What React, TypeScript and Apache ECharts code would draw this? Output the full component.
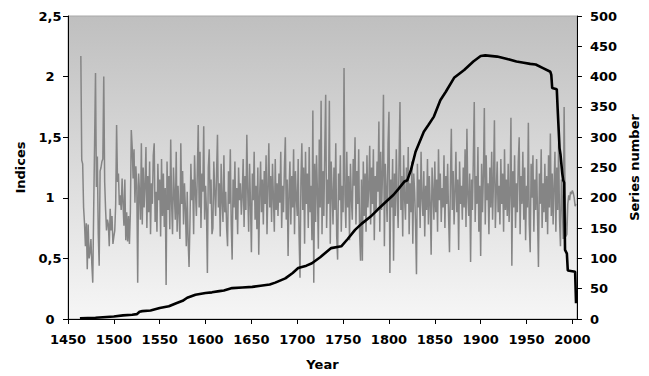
import React, { useEffect, useRef } from "react";
import * as echarts from "echarts";

// Chronology indices (annual), starting 1464
const indexStartYear = 1464;
const indexValues: number[] = [
  2.17, 1.31, 1.28, 0.92, 0.79, 0.60,
  0.79, 0.41, 0.78, 0.50, 0.55, 0.66, 0.45, 0.30, 0.90, 1.45,
  2.03, 1.09, 1.34, 0.70, 0.44, 1.22, 1.25, 1.30, 1.32, 2.00,
  1.13, 0.90, 0.73, 0.82, 0.78, 0.60, 0.91, 0.73, 0.85, 0.62,
  0.68, 0.73, 0.95, 1.60, 1.13, 1.20, 0.94, 1.02, 0.90, 1.16,
  0.95, 0.77, 1.15, 0.65, 0.88, 0.64, 0.85, 0.62, 0.88, 1.56,
  1.42, 1.16, 1.40, 0.96, 1.26, 1.10, 0.30, 1.20, 1.05, 0.82,
  1.45, 0.78, 1.25, 0.92, 1.10, 1.42, 0.75, 1.18, 0.88, 1.30,
  0.70, 1.12, 0.95, 1.35, 1.45, 0.80, 1.05, 0.72, 1.28, 0.98,
  1.15, 0.68, 1.32, 0.85, 1.20, 0.76, 1.08, 0.28, 1.30, 0.90,
  1.18, 0.74, 1.48, 0.95, 0.70, 1.25, 1.02, 0.82, 1.38, 0.72,
  1.10, 0.88, 0.66, 1.45, 0.95, 1.22, 0.78, 1.12, 0.92, 0.60,
  1.05, 0.65, 0.43, 0.80, 1.28, 0.98, 1.15, 0.70, 1.35, 1.05,
  0.85, 1.20, 1.60, 0.92, 1.38, 0.75, 1.20, 1.05, 1.59, 0.82,
  1.10, 0.90, 0.38, 1.25, 1.40, 0.95, 1.15, 0.70, 0.75, 1.30,
  1.05, 0.85, 1.20, 1.52, 0.92, 1.12, 0.68, 1.28, 0.98, 0.80,
  1.35, 0.88, 1.05, 0.75, 0.60, 1.22, 0.95, 1.40, 0.78, 0.49,
  1.15, 0.92, 1.30, 0.82, 1.08, 0.70, 1.25, 0.98, 1.12, 0.86,
  1.02, 1.32, 0.76, 1.18, 0.90, 1.52, 1.05, 0.72, 1.28, 0.95,
  0.55, 1.20, 0.98, 1.38, 0.82, 1.10, 0.74, 1.25, 0.53, 1.02,
  1.30, 0.88, 1.15, 0.78, 1.22, 0.95, 1.35, 0.70, 1.08, 1.45,
  0.92, 1.18, 0.80, 1.28, 1.00, 0.72, 1.32, 0.90, 1.12, 0.85,
  1.20, 0.96, 1.38, 0.75, 1.10, 0.88, 1.25, 1.50, 0.82, 1.15,
  0.52, 1.05, 1.30, 0.78, 1.18, 0.92, 1.40, 0.70, 1.22, 1.00,
  0.85, 1.32, 0.68, 0.34, 1.15, 1.45, 0.90, 1.25, 0.62, 1.38,
  0.95, 1.20, 0.75, 1.42, 0.88, 1.10, 0.65, 1.72, 0.30, 1.28,
  0.80, 1.35, 1.05, 0.58, 1.48, 0.92, 1.80, 0.70, 1.22, 0.85,
  1.40, 1.85, 0.75, 1.15, 0.95, 1.80, 0.62, 1.30, 1.05, 0.78,
  1.25, 0.90, 1.45, 0.68, 0.49, 1.20, 0.98, 1.35, 0.72, 1.10,
  0.88, 2.07, 1.02, 0.75, 1.38, 0.92, 1.18, 0.65, 1.28, 1.00,
  0.82, 1.32, 1.10, 1.50, 0.78, 1.22, 0.95, 1.40, 0.70, 0.48,
  1.15, 0.48, 1.30, 0.85, 1.20, 0.72, 1.35, 0.92, 1.08, 1.43,
  0.78, 1.25, 0.95, 1.40, 0.65, 1.18, 0.88, 1.30, 1.05, 1.63,
  0.72, 1.38, 0.90, 1.22, 1.85, 0.60, 1.28, 1.05, 0.80, 1.45,
  1.71, 0.38, 1.15, 0.92, 1.32, 0.48, 1.20, 0.85, 1.40, 1.02,
  0.75, 1.30, 1.79, 0.90, 1.18, 0.68, 1.35, 1.00, 0.82, 1.25,
  0.95, 1.42, 0.70, 1.12, 0.88, 1.30, 0.62, 1.20, 1.05, 0.78,
  0.37, 1.28, 0.92, 1.15, 0.75, 1.38, 1.00, 0.85, 1.22, 0.68,
  1.10, 0.90, 1.32, 0.78, 1.18, 0.95, 0.53, 1.25, 1.05, 0.82,
  1.30, 0.88, 1.15, 0.72, 1.40, 0.98, 1.20, 0.80, 1.08, 0.92,
  1.35, 0.75, 1.18, 0.95, 1.28, 0.85, 0.55, 1.12, 1.57, 0.90,
  1.22, 0.78, 1.05, 1.38, 0.88, 1.15, 0.57, 1.30, 0.95, 1.10,
  0.82, 1.25, 0.92, 1.40, 0.76, 1.57, 1.02, 0.85, 1.20, 0.47,
  1.15, 0.90, 1.32, 1.79, 0.80, 1.18, 0.95, 1.42, 0.72, 1.10,
  0.52, 1.28, 0.88, 1.20, 1.74, 0.78, 1.35, 0.98, 1.12, 0.70,
  1.25, 0.92, 1.38, 0.82, 1.15, 1.64, 0.75, 1.05, 1.30, 0.88,
  1.10, 0.78, 1.32, 0.95, 1.20, 0.72, 1.40, 0.90, 1.15, 0.85,
  1.28, 0.80, 1.05, 1.66, 0.44, 1.22, 0.92, 1.35, 0.75, 1.12,
  0.88, 1.30, 1.50, 0.70, 1.18, 0.95, 1.38, 0.82, 1.25, 0.65,
  1.10, 0.92, 1.62, 0.78, 0.55, 1.28, 1.00, 1.35, 0.72, 1.15,
  0.90, 1.32, 0.85, 0.43, 1.20, 0.95, 1.40, 0.75, 1.12, 0.88,
  1.28, 0.80, 1.18, 0.70, 1.35, 0.92, 1.53, 0.85, 1.20, 0.78,
  1.10, 1.38, 0.72, 1.25, 0.90, 1.45, 0.82, 0.60, 1.15, 0.95,
  0.66, 1.75, 1.05, 0.68, 0.70, 0.95, 1.02, 0.98, 1.05, 1.03,
  1.06, 1.04, 1.00, 0.93, 0.95,
];

// Number of series (right axis)
const seriesYears: number[] = [
  1463, 1480, 1500, 1510, 1520, 1525, 1528, 1531, 1540, 1550, 1560, 1568, 1575, 1580, 1589,
  1600, 1607, 1615, 1620, 1629, 1640, 1651, 1660, 1670, 1676, 1687, 1695, 1701, 1710, 1716,
  1725, 1737, 1748, 1755, 1763, 1770, 1780, 1788, 1795, 1805, 1810, 1817, 1820, 1824, 1829,
  1838, 1843, 1849, 1856, 1862, 1871, 1882, 1892, 1900, 1905, 1918, 1929, 1939, 1947, 1954,
  1960, 1968, 1976, 1977, 1978, 1983, 1984, 1986, 1987, 1989, 1990, 1991, 1992, 1994, 1995,
  2003, 2004,
];
const seriesCounts: number[] = [
  1, 2, 4, 6, 7, 8, 12, 13, 14, 18, 21, 26, 30, 35, 40,
  43, 44, 46, 47, 51, 52, 53, 55, 57, 60, 67, 76, 84, 88, 92,
  102, 117, 120, 132, 147, 157, 169, 181, 191, 205, 214, 227, 229, 246, 276,
  309, 320, 334, 361, 375, 398, 411, 425, 434, 435, 433, 429, 425, 423, 421,
  420, 414, 408, 403, 381, 379, 345, 282, 272, 240, 229, 225, 114, 108, 80,
  78, 26,
];

const xTicks: number[] = [1450, 1500, 1550, 1600, 1650, 1700, 1750, 1800, 1850, 1900, 1950, 2000];

const FONT = "DejaVu Sans";

export default function App() {
  const ref = useRef<HTMLDivElement>(null);

  useEffect(() => {
    if (!ref.current) return;
    const chart = echarts.init(ref.current, undefined, { renderer: "svg" });

    const labelStyle = {
      color: "#000",
      fontFamily: FONT,
      fontWeight: "bold" as const,
      fontSize: 13,
    };

    const indexData = indexValues.map((v, i) => [indexStartYear + i, v]);
    const countData = seriesYears.map((y, i) => [y, seriesCounts[i]]);

    chart.setOption({
      animation: false,
      backgroundColor: "#ffffff",
      grid: {
        left: 68,
        right: 69,
        top: 16,
        bottom: 57,
        show: true,
        borderColor: "#a8a8a8",
        borderWidth: 1,
        backgroundColor: new echarts.graphic.LinearGradient(0, 0, 0, 1, [
          { offset: 0, color: "#bfbfbf" },
          { offset: 1, color: "#f6f6f6" },
        ]),
      },
      xAxis: {
        type: "value",
        min: 1450,
        max: 2005,
        interval: 50,
        name: "Year",
        nameLocation: "middle",
        nameGap: 39,
        nameTextStyle: { ...labelStyle },
        axisLine: { show: true, lineStyle: { color: "#000", width: 1 } },
        axisTick: {
          show: true,
          length: 5,
          lineStyle: { color: "#000" },
          customValues: xTicks,
        },
        axisLabel: {
          ...labelStyle,
          margin: 14,
          customValues: xTicks,
          formatter: (v: number) => String(v),
        },
        splitLine: { show: false },
      },
      yAxis: [
        {
          type: "value",
          min: 0,
          max: 2.5,
          interval: 0.5,
          position: "left",
          name: "Indices",
          nameLocation: "middle",
          nameGap: 41,
          nameTextStyle: { ...labelStyle },
          axisLine: { show: true, lineStyle: { color: "#000", width: 1 } },
          axisTick: { show: true, length: 5, lineStyle: { color: "#000" } },
          axisLabel: {
            ...labelStyle,
            align: "center",
            margin: 18,
            formatter: (v: number) => String(v).replace(".", ","),
          },
          splitLine: { show: false },
        },
        {
          type: "value",
          min: 0,
          max: 500,
          interval: 50,
          position: "right",
          name: "Series number",
          nameLocation: "middle",
          nameGap: 46,
          nameTextStyle: { ...labelStyle },
          axisLine: { show: true, lineStyle: { color: "#000", width: 1 } },
          axisTick: { show: true, length: 5, lineStyle: { color: "#000" } },
          axisLabel: { ...labelStyle, margin: 13, formatter: (v: number) => String(v) },
          splitLine: { show: false },
        },
      ],
      series: [
        {
          type: "line",
          name: "Indices",
          yAxisIndex: 0,
          data: indexData,
          showSymbol: false,
          symbol: "none",
          lineStyle: { color: "#858585", width: 1.5 },
          z: 2,
        },
        {
          type: "line",
          name: "Series number",
          yAxisIndex: 1,
          data: countData,
          showSymbol: false,
          symbol: "none",
          lineStyle: { color: "#000", width: 2.6 },
          z: 3,
        },
      ],
    });

    return () => chart.dispose();
  }, []);

  return (
    <div
      ref={ref}
      style={{ position: "fixed", left: 0, top: 0, width: 649, height: 376, background: "#fff" }}
    />
  );
}
